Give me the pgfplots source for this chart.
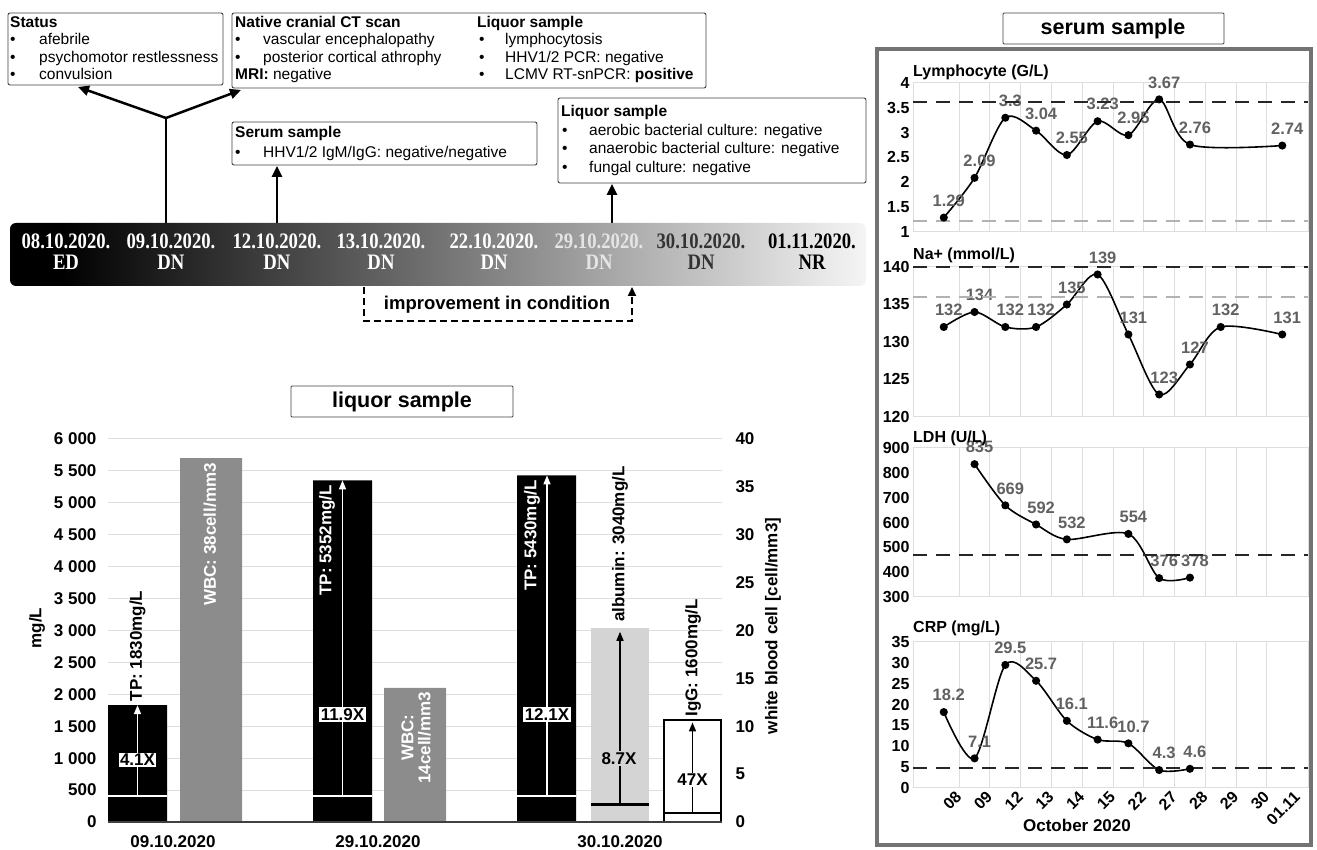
\documentclass[border=0pt]{standalone}
\usepackage{fontspec}
\setmainfont{Liberation Sans}
\newfontfamily\tnr{Liberation Serif}
\usepackage{graphicx}
\usepackage{pgfplots}
\pgfplotsset{compat=1.18}
\usetikzlibrary{arrows.meta}
\newcommand\fs[1]{\fontsize{#1}{#1}\selectfont}
\pgfdeclarehorizontalshading{tl}{100bp}{color(0bp)=(black); color(28bp)=(black); color(75bp)=(black!4); color(100bp)=(black!4)}
\pgfplotsset{sub/.style={scale only axis, width=395.4pt, xmin=-1, xmax=11.85, clip=false,
  axis line style={draw=black!13, line width=1pt}, major tick length=0pt, minor tick length=0pt,
  xtick={0,...,11}, xticklabels={}, minor xtick={0.5,1.5,...,10.5}, xminorgrids,
  minor grid style={draw=black!13, line width=1pt},
  yticklabel style={font=\bfseries\fs{16}}, /pgf/number format/assume math mode=true}}
\begin{document}
\begin{tikzpicture}[x=1pt,y=1pt,
  box/.style={draw=black!75, line width=0.9pt, rounded corners=2pt},
  tx/.style={anchor=base west, inner sep=0pt, font=\fs{15.5}},
  bx/.style={anchor=base west, inner sep=0pt, font=\bfseries\fs{15.5}},
  arr/.style={line width=2.5pt, -{Triangle[length=11pt,width=10pt]}},
  lab/.style={font=\bfseries\fs{16.5}, text=black!62, xshift=5pt, yshift=17pt, inner sep=0pt},
  rl/.style={font=\bfseries\fs{17}, rotate=90, inner sep=0pt},
  dl/.style={black!85, line width=2.5pt, dash pattern=on 14pt off 9pt},
  gl/.style={black!30, line width=2pt, dash pattern=on 14pt off 9pt},
  cl/.style={black, line width=1.6pt, smooth, mark=*, mark size=3.2pt},
  ttl/.style={anchor=west, inner sep=0pt, font=\bfseries\fs{16}},
]
\def\HH{850}
\path[use as bounding box] (0,0) rectangle (1317,850);

% ---------- top boxes ----------
\draw[box] (8,\HH-13) rectangle (223,\HH-85);
\node[bx] at (10,\HH-27.5) {Status};
\foreach \t [count=\i] in {afebrile, psychomotor restlessness, convulsion}{
  \node[tx] at (10,{\HH-27.5-17.5*\i}) {\textbullet};
  \node[tx] at (39,{\HH-27.5-17.5*\i}) {\t};
}
\draw[box] (232,\HH-13) rectangle (706,\HH-88);
\node[bx] at (235,\HH-27.5) {Native cranial CT scan};
\node[tx] at (235,\HH-45) {\textbullet};
\node[tx] at (263,\HH-45) {vascular encephalopathy};
\node[tx] at (235,\HH-62.5) {\textbullet};
\node[tx] at (263,\HH-62.5) {posterior cortical athrophy};
\node[tx] at (235,\HH-80) {\textbf{MRI:} negative};
\node[bx] at (477,\HH-27.5) {Liquor sample};
\node[tx] at (479,\HH-45) {\textbullet};
\node[tx] at (505,\HH-45) {lymphocytosis};
\node[tx] at (479,\HH-62.5) {\textbullet};
\node[tx] at (505,\HH-62.5) {HHV1/2 PCR: negative};
\node[tx] at (479,\HH-80) {\textbullet};
\node[tx] at (505,\HH-80) {LCMV RT-snPCR: \textbf{positive}};

\draw[box] (232,\HH-122) rectangle (537,\HH-165);
\node[bx] at (235,\HH-138) {Serum sample};
\node[tx] at (235,\HH-158) {\textbullet};
\node[tx] at (263,\HH-158) {HHV1/2 IgM/IgG: negative/negative};

\draw[box] (558,\HH-98) rectangle (866,\HH-183);
\node[bx] at (561,\HH-117) {Liquor sample};
\node[tx] at (562,\HH-135.5) {\textbullet};
\node[tx] at (589,\HH-135.5) {aerobic bacterial culture: negative};
\node[tx] at (562,\HH-154) {\textbullet};
\node[tx] at (589,\HH-154) {anaerobic bacterial culture: negative};
\node[tx] at (562,\HH-172.5) {\textbullet};
\node[tx] at (589,\HH-172.5) {fungal culture: negative};

% arrows
\draw[line width=2.5pt] (166,\HH-223) -- (166,\HH-118);
\draw[arr] (166,\HH-118) -- (78,\HH-87);
\draw[arr] (166,\HH-118) -- (241,\HH-90);
\draw[arr] (277,\HH-223) -- (277,\HH-166);
\draw[arr] (612,\HH-223) -- (612,\HH-184);

% ---------- timeline ----------
\shade[shading=tl, rounded corners=6pt] (10,\HH-223) rectangle (866,\HH-286);
\foreach \x/\d/\s/\c in {66/08.10.2020./ED/white, 171/09.10.2020./DN/white, 277/12.10.2020./DN/white,
   381/13.10.2020./DN/white, 494/22.10.2020./DN/white, 599/29.10.2020./DN/black!10,
   701/30.10.2020./DN/black!80, 812/01.11.2020./NR/black}{
  \node[text=\c, font=\tnr\bfseries\fs{18.7}, inner sep=0pt] at (\x,\HH-241) {\scalebox{1}[1.18]{\d}};
  \node[text=\c, font=\tnr\bfseries\fs{18.7}, inner sep=0pt] at (\x,\HH-262) {\scalebox{1}[1.18]{\s}};
}
\draw[line width=1.8pt, dash pattern=on 7pt off 4pt, -{Triangle[length=9pt,width=8pt]}]
  (364,\HH-287) -- (364,\HH-321) -- (632,\HH-321) -- (632,\HH-287);
\node[font=\bfseries\fs{18.5}, inner sep=0pt] at (497,\HH-305) {improvement in condition};

% ---------- liquor sample bar chart ----------
\draw[draw=black!75, line width=0.9pt, rounded corners=1pt] (291,\HH-386) rectangle (513,\HH-417);
\node[font=\bfseries\fs{21.5}] at (402,\HH-402) {liquor sample};

\begin{axis}[at={(108pt,28pt)}, anchor=south west, scale only axis, width=614pt, height=383pt,
  xmin=108, xmax=722, ymin=0, ymax=6000, clip=false,
  axis line style={draw=none}, major tick length=0pt,
  ymajorgrids, grid style={draw=black!13, line width=1pt},
  ytick={0,500,...,6000},
  yticklabels={0,500,1 000,1 500,2 000,2 500,3 000,3 500,4 000,4 500,5 000,5 500,6 000},
  xtick={173,378,620}, xticklabels={09.10.2020,29.10.2020,30.10.2020},
  tick label style={font=\bfseries\fs{17}},
  yticklabel style={xshift=-8pt}, xticklabel style={yshift=-10.5pt}]
\addplot[ybar, bar width=59, bar shift=0pt, fill=black, draw=none] coordinates {(137.5,1830) (342.5,5352) (546.5,5430)};
\addplot[ybar, bar width=58, bar shift=0pt, fill=black!17, draw=none] coordinates {(620,3040)};
\addplot[ybar, bar width=57, bar shift=0pt, fill=white, draw=black, line width=2.5pt] coordinates {(692.5,1600)};
% reference lines inside bars
\draw[white, line width=2pt] (axis cs:108,400) -- (axis cs:167,400);
\draw[white, line width=2pt] (axis cs:313,400) -- (axis cs:372,400);
\draw[white, line width=2pt] (axis cs:517,400) -- (axis cs:576,400);
\draw[black, line width=3pt] (axis cs:591,270) -- (axis cs:649,270);
\draw[black, line width=2pt] (axis cs:664,140) -- (axis cs:721,140);
\draw[white, line width=1.5pt, -{Triangle[length=9pt,width=7pt]}] (axis cs:137.5,400) -- (axis cs:137.5,1830);
\draw[white, line width=1.5pt, -{Triangle[length=9pt,width=7pt]}] (axis cs:342.5,400) -- (axis cs:342.5,5352);
\draw[white, line width=1.5pt, -{Triangle[length=9pt,width=7pt]}] (axis cs:547,400) -- (axis cs:547,5430);
\draw[black, line width=1.5pt, -{Triangle[length=9pt,width=7pt]}] (axis cs:620,270) -- (axis cs:620,2980);
\draw[black, line width=1.5pt, -{Triangle[length=9pt,width=7pt]}] (axis cs:692.5,140) -- (axis cs:692.5,1560);
\node[fill=white, inner sep=1.5pt, font=\bfseries\fs{17}] at (axis cs:137.5,970) {4.1X};
\node[fill=white, inner sep=1.5pt, font=\bfseries\fs{17}] at (axis cs:342.5,1680) {11.9X};
\node[fill=white, inner sep=1.5pt, font=\bfseries\fs{17}] at (axis cs:547,1690) {12.1X};
\node[fill=black!17, inner sep=1.5pt, font=\bfseries\fs{17}] at (axis cs:619,1000) {8.7X};
\node[fill=white, inner sep=1.5pt, font=\bfseries\fs{17}] at (axis cs:692.5,660) {47X};
\node[rl, anchor=west] at (axis cs:137.5,1890) {TP: 1830mg/L};
\node[rl, anchor=east, text=white] at (axis cs:327,5280) {TP: 5352mg/L};
\node[rl, anchor=east, text=white] at (axis cs:532,5355) {TP: 5430mg/L};
\node[rl, anchor=west] at (axis cs:620,3130) {albumin: 3040mg/L};
\node[rl, anchor=west] at (axis cs:693,1650) {IgG: 1600mg/L};
\end{axis}

\begin{axis}[at={(108pt,28pt)}, anchor=south west, scale only axis, width=614pt, height=383pt,
  xmin=108, xmax=722, ymin=0, ymax=40, clip=false,
  axis line style={draw=none}, major tick length=0pt,
  xtick=\empty, ytick={0,5,...,40}, yticklabel pos=right,
  yticklabel style={font=\bfseries\fs{17}, xshift=10pt},
  /pgf/number format/assume math mode=true]
\addplot[ybar, bar width=62, bar shift=0pt, fill=black!45, draw=none] coordinates {(211,38) (415,14)};
\node[rl, anchor=east, text=white] at (axis cs:210,37.5) {WBC: 38cell/mm3};
\node[rl, text=white, align=center] at (axis cs:416,8.8) {WBC:\\14cell/mm3};
\draw[black!75, line width=1.6pt] (axis cs:108,0) -- (axis cs:722,0);
\end{axis}
\node[font=\bfseries\fs{17}, rotate=90] at (37,\HH-628) {mg/L};
\node[font=\bfseries\fs{17}, rotate=90] at (773,\HH-626) {white blood cell [cell/mm3]};

% ---------- serum sample panel ----------
\draw[draw=black!75, line width=0.9pt, rounded corners=1pt] (1003,\HH-13) rectangle (1224,\HH-44);
\node[font=\bfseries\fs{21.5}] at (1113,\HH-29) {serum sample};
\draw[black!55, line width=3.5pt] (877,\HH-49) rectangle (1311,\HH-845);

% Lymphocyte
\begin{axis}[sub, at={(913pt,618pt)}, anchor=south west, height=149pt, ymin=1, ymax=4, ytick={1,1.5,...,4}]
\addplot[cl] coordinates {(0,1.29) (1,2.09) (2,3.3) (3,3.04) (4,2.55) (5,3.23) (6,2.95) (7,3.67) (8,2.76) (11,2.74)};
\node[lab] at (axis cs:0,1.29) {1.29};
\node[lab] at (axis cs:1,2.09) {2.09};
\node[lab] at (axis cs:2,3.3) {3.3};
\node[lab] at (axis cs:3,3.04) {3.04};
\node[lab] at (axis cs:4,2.55) {2.55};
\node[lab] at (axis cs:5,3.23) {3.23};
\node[lab] at (axis cs:6,2.95) {2.95};
\node[lab] at (axis cs:7,3.67) {3.67};
\node[lab] at (axis cs:8,2.76) {2.76};
\node[lab] at (axis cs:11,2.74) {2.74};
\addplot[gl] coordinates {(-1,1.22) (11.85,1.22)};
\addplot[dl] coordinates {(-1,3.62) (11.85,3.62)};
\end{axis}
\node[ttl] at (913,\HH-72) {Lymphocyte (G/L)};

% Na+
\begin{axis}[sub, at={(913pt,433pt)}, anchor=south west, height=150pt, ymin=120, ymax=140, ytick={120,125,...,140}]
\addplot[cl] coordinates {(0,132) (1,134) (2,132) (3,132) (4,135) (5,139) (6,131) (7,123) (8,127) (9,132) (11,131)};
\node[lab] at (axis cs:0,132) {132};
\node[lab] at (axis cs:1,134) {134};
\node[lab] at (axis cs:2,132) {132};
\node[lab] at (axis cs:3,132) {132};
\node[lab] at (axis cs:4,135) {135};
\node[lab] at (axis cs:5,139) {139};
\node[lab] at (axis cs:6,131) {131};
\node[lab] at (axis cs:7,123) {123};
\node[lab] at (axis cs:8,127) {127};
\node[lab] at (axis cs:9,132) {132};
\node[lab] at (axis cs:11,131) {131};
\addplot[gl] coordinates {(-1,136) (11.85,136)};
\addplot[dl] coordinates {(-1,140) (11.85,140)};
\end{axis}
\node[ttl] at (913,\HH-255) {Na+ (mmol/L)};

% LDH
\begin{axis}[sub, at={(913pt,253pt)}, anchor=south west, height=149pt, ymin=300, ymax=900, ytick={300,400,...,900}]
\addplot[cl] coordinates {(1,835) (2,669) (3,592) (4,532) (6,554) (7,376) (8,378)};
\node[lab] at (axis cs:1,835) {835};
\node[lab] at (axis cs:2,669) {669};
\node[lab] at (axis cs:3,592) {592};
\node[lab] at (axis cs:4,532) {532};
\node[lab] at (axis cs:6,554) {554};
\node[lab] at (axis cs:7,376) {376};
\node[lab] at (axis cs:8,378) {378};
\addplot[dl] coordinates {(-1,470) (11.85,470)};
\end{axis}
\node[ttl] at (913,\HH-438) {LDH (U/L)};

% CRP
\begin{axis}[sub, at={(913pt,62pt)}, anchor=south west, height=146pt, ymin=0, ymax=35, ytick={0,5,...,35},
  xticklabels={08,09,12,13,14,15,22,27,28,29,30,01.11},
  xticklabel style={rotate=45, anchor=east, inner sep=0pt, xshift=6pt, yshift=-15pt, font=\bfseries\fs{16}}]
\addplot[cl] coordinates {(0,18.2) (1,7.1) (2,29.5) (3,25.7) (4,16.1) (5,11.6) (6,10.7) (7,4.3) (8,4.6)};
\node[lab] at (axis cs:0,18.2) {18.2};
\node[lab] at (axis cs:1,7.1) {7.1};
\node[lab] at (axis cs:2,29.5) {29.5};
\node[lab] at (axis cs:3,25.7) {25.7};
\node[lab] at (axis cs:4,16.1) {16.1};
\node[lab] at (axis cs:5,11.6) {11.6};
\node[lab] at (axis cs:6,10.7) {10.7};
\node[lab] at (axis cs:7,4.3) {4.3};
\node[lab] at (axis cs:8,4.6) {4.6};
\addplot[dl] coordinates {(-1,4.8) (11.85,4.8)};
\end{axis}
\node[ttl] at (913,\HH-628) {CRP (mg/L)};
\node[font=\bfseries\fs{17}] at (1077,\HH-825) {October 2020};
\end{tikzpicture}
\end{document}
